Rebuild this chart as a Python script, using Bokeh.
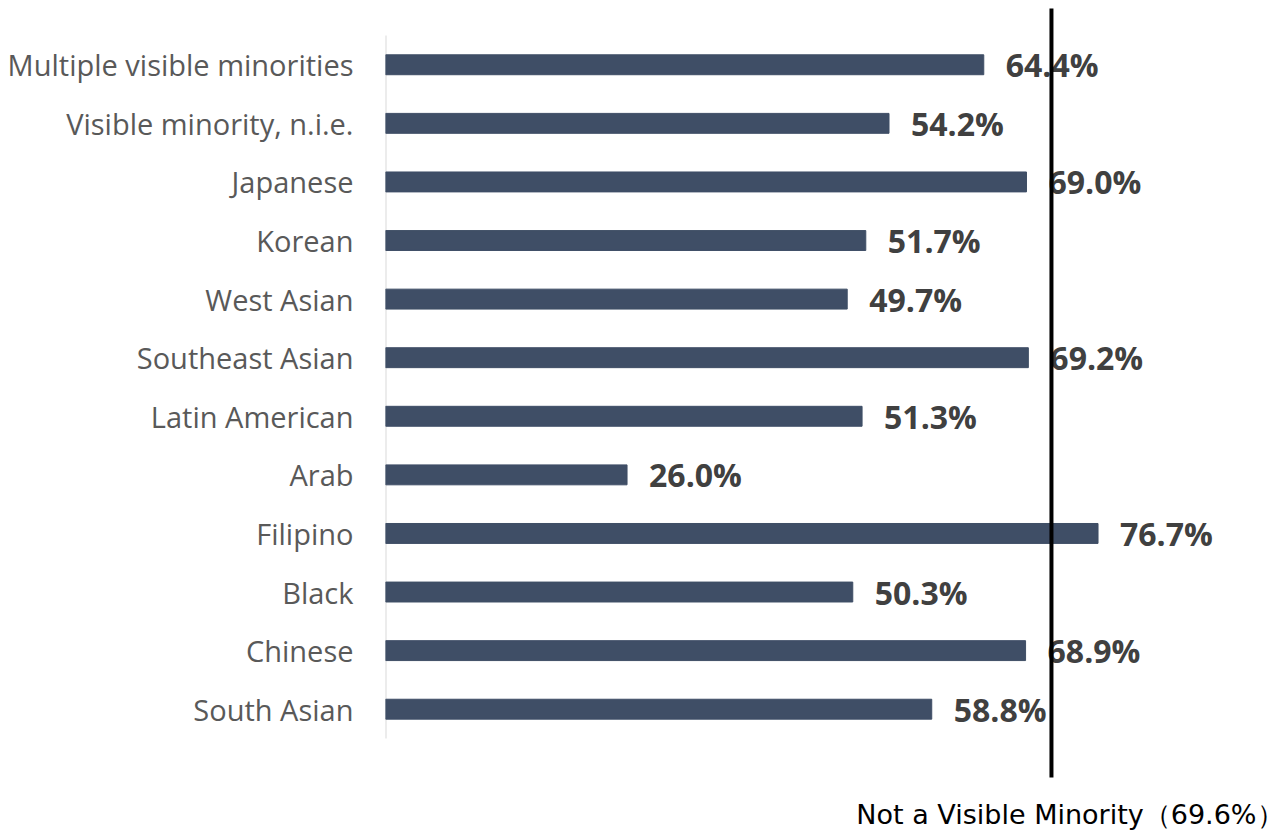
from bokeh.plotting import figure
from bokeh.models import Range1d, FixedTicker, Label
from bokeh.core.properties import value
from bokeh.embed import file_html
from bokeh.resources import INLINE

# Data (bottom to top)
categories = ["South Asian", "Chinese", "Black", "Filipino", "Arab", "Latin American",
              "Southeast Asian", "West Asian", "Korean", "Japanese",
              "Visible minority, n.i.e.", "Multiple visible minorities"]
shares = [58.8, 68.9, 50.3, 76.7, 26.0, 51.3, 69.2, 49.7, 51.7, 69.0, 54.2, 64.4]
value_labels = ["58.8%", "68.9%", "50.3%", "76.7%", "26.0%", "51.3%",
                "69.2%", "49.7%", "51.7%", "69.0%", "54.2%", "64.4%"]
reference_value = [69.6]
reference_text = "Not a Visible Minority（69.6%）"

positions = list(range(len(categories)))

p = figure(width=1285, height=838, output_backend="svg", toolbar_location=None,
           x_range=Range1d(0, 96.88), y_range=Range1d(-2.207, 12.097),
           x_axis_location=None, min_border_left=385, min_border_right=0,
           min_border_top=0, min_border_bottom=0)
p.outline_line_color = None
p.grid.visible = False
p.background_fill_color = "white"

# the marker line uses its own overlay scale
p.extra_x_ranges = {"marker": Range1d(0, 94.06)}

yax = p.yaxis[0]
yax.ticker = FixedTicker(ticks=positions)
yax.major_label_overrides = {i: c for i, c in zip(positions, categories)}
yax.axis_line_color = None
yax.major_tick_line_color = None
yax.minor_tick_line_color = None
yax.major_label_standoff = 26
yax.major_label_text_font = "Open Sans"
yax.major_label_text_font_size = "29px"
yax.major_label_text_color = "#595959"

# category axis line
p.segment(x0=[0], y0=[-0.5], x1=[0], y1=[len(categories) - 0.5],
          line_color="#d9d9d9", line_width=2)

p.hbar(y=positions, right=shares, left=0, height=0.34,
       fill_color="#3f4e66", line_color="#3f4e66")

p.text(x=shares, y=positions, text=value_labels, x_offset=22,
       text_baseline="middle", text_align="left",
       text_font=value("Open Sans"), text_font_style="bold",
       text_font_size="32px", text_color="#404040")

p.segment(x0=reference_value, y0=[11.961], x1=reference_value, y1=[-1.166],
          x_range_name="marker", line_color="black", line_width=4)

p.add_layout(Label(x=898, y=24, x_units="screen", y_units="screen",
                   text=reference_text, text_align="right", text_baseline="alphabetic",
                   text_font="DejaVu Sans", text_font_size="27px", text_color="black"))

open("out.html", "w").write(file_html(p, INLINE))
